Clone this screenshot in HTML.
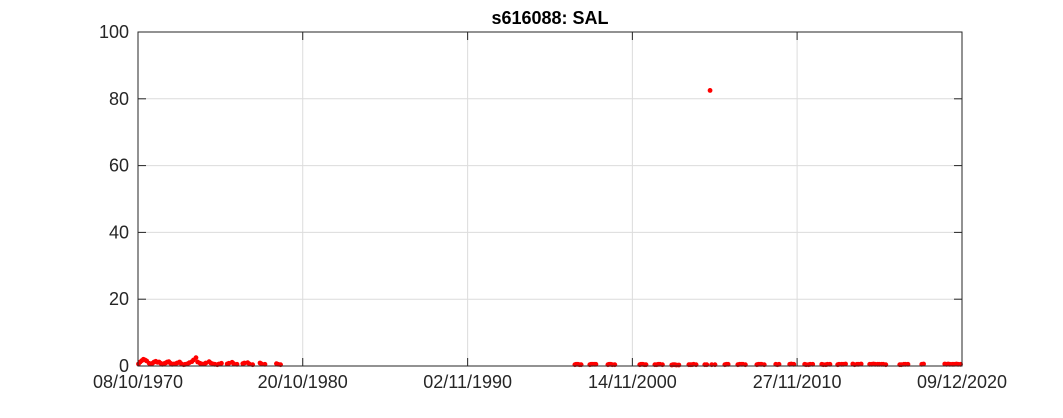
<!DOCTYPE html>
<html><head><meta charset="utf-8"><style>
body{margin:0;background:#fff;font-family:"Liberation Sans",sans-serif}
svg text{font-family:"Liberation Sans",sans-serif}
</style></head><body>
<svg id="chart" width="1063" height="413" xmlns="http://www.w3.org/2000/svg">
<rect x="0" y="0" width="1063" height="413" fill="#fff"/>
<g id="grid"></g>
<g id="marks"></g>
<rect x="138" y="32" width="824" height="334" fill="none" stroke="#262626" stroke-width="1"/>
<g id="axes"></g>
<text x="550" y="24" text-anchor="middle" font-size="18" font-weight="bold" fill="#000">s616088: SAL</text>
</svg>
<script>
const xTickYears=[1970.77,1980.80,1990.84,2000.87,2010.90,2020.94];
const xTickLabels=["08/10/1970","20/10/1980","02/11/1990","14/11/2000","27/11/2010","09/12/2020"];
const yTicks=[0,20,40,60,80,100];
const dates=[1970.80,1970.90,1971.00,1971.10,1971.20,1971.30,1971.45,1971.55,1971.65,1971.75,1971.85,1971.95,1972.05,1972.15,1972.25,1972.35,1972.45,1972.55,1972.65,1972.75,1972.85,1972.95,1973.05,1973.15,1973.30,1973.40,1973.55,1973.65,1973.80,1973.90,1974.05,1974.15,1974.30,1974.40,1974.55,1974.65,1974.80,1974.90,1975.10,1975.20,1975.35,1975.45,1975.60,1975.70,1975.85,1976.20,1976.30,1976.50,1976.60,1976.80,1977.15,1977.25,1977.45,1977.55,1977.75,1978.20,1978.30,1978.50,1979.20,1979.30,1979.45,
1997.37,1997.45,1997.55,1997.65,1997.75,1998.28,1998.36,1998.45,1998.55,1998.65,1999.38,1999.46,1999.55,1999.65,1999.80,2001.32,2001.40,2001.50,2001.60,2001.70,2002.24,2002.35,2002.45,2002.55,2002.70,2003.27,2003.35,2003.45,2003.55,2003.70,2004.31,2004.40,2004.50,2004.60,2004.75,2005.28,2005.40,2005.60,2005.70,2005.90,2006.50,2006.60,2006.70,2007.29,2007.40,2007.50,2007.60,2007.75,2008.45,2008.55,2008.65,2008.75,2008.90,2009.60,2009.70,2009.80,2010.45,2010.55,2010.70,2011.36,2011.45,2011.60,2011.70,2011.85,2012.40,2012.50,2012.65,2012.75,2012.90,2013.37,2013.45,2013.60,2013.70,2013.85,2014.29,2014.40,2014.55,2014.65,2014.80,2015.32,2015.45,2015.55,2015.65,2015.80,2015.90,2016.05,2016.15,2016.30,2017.15,2017.25,2017.40,2017.50,2017.65,2018.49,2018.60,2019.89,2020.00,2020.10,2020.20,2020.35,2020.45,2020.60,2020.70,2020.85];
const values=[0.6,1.2,1.6,2.0,1.8,1.5,0.8,0.6,0.8,1.2,1.4,1.1,1.2,0.8,0.5,0.7,0.9,1.2,1.3,0.8,0.5,0.6,0.6,0.9,1.2,0.7,0.4,0.5,0.7,1.0,1.3,1.8,2.5,1.2,0.8,0.6,0.6,0.9,1.3,0.9,0.6,0.5,0.4,0.6,0.8,0.6,0.8,1.1,0.7,0.5,0.7,0.9,1.0,0.6,0.4,0.9,0.6,0.5,0.7,0.5,0.4,
0.4,0.5,0.5,0.4,0.4,0.4,0.5,0.5,0.5,0.5,0.4,0.5,0.5,0.4,0.4,0.4,0.5,0.5,0.4,0.4,0.4,0.4,0.5,0.5,0.4,0.3,0.4,0.4,0.3,0.3,0.4,0.4,0.4,0.5,0.4,0.4,0.4,82.5,0.4,0.4,0.4,0.5,0.5,0.4,0.5,0.5,0.5,0.4,0.4,0.5,0.5,0.5,0.4,0.5,0.4,0.5,0.5,0.6,0.5,0.5,0.4,0.4,0.5,0.5,0.5,0.4,0.4,0.5,0.5,0.4,0.5,0.5,0.5,0.6,0.6,0.4,0.5,0.5,0.6,0.5,0.5,0.6,0.5,0.5,0.5,0.5,0.5,0.4,0.4,0.4,0.5,0.5,0.5,0.5,0.6,0.6,0.5,0.6,0.5,0.5,0.5,0.6,0.5,0.5];
const X0=138,X1=962,Y0=366,Y1=32;
const xs=y=>X0+(y-xTickYears[0])/(xTickYears[5]-xTickYears[0])*(X1-X0);
const ys=v=>Y0-v/100*(Y0-Y1);
const NS="http://www.w3.org/2000/svg";
const grid=document.getElementById('grid'),axes=document.getElementById('axes'),marks=document.getElementById('marks');
function mk(tag,attrs,parent){const e=document.createElementNS(NS,tag);for(const k in attrs)e.setAttribute(k,attrs[k]);parent.appendChild(e);return e;}
xTickYears.forEach((t,i)=>{const x=xs(t);
 const g=mk('line',{x1:x,x2:x,y1:Y1,y2:Y0,stroke:'#dcdcdc','stroke-width':1},grid);
 
 
 mk('line',{x1:x,x2:x,y1:Y0,y2:Y0-8,stroke:'#262626'},axes);
 mk('line',{x1:x,x2:x,y1:Y1,y2:Y1+8,stroke:'#262626'},axes);
 const tx=mk('text',{x:x,y:Y0+22,'text-anchor':'middle','font-size':18,fill:'#262626'},axes);
 tx.textContent=xTickLabels[i];
 
 
});
yTicks.forEach(v=>{const y=ys(v);
 const g=mk('line',{x1:X0,x2:X1,y1:y,y2:y,stroke:'#dcdcdc','stroke-width':1},grid);
 
 
 mk('line',{x1:X0,x2:X0+8,y1:y,y2:y,stroke:'#262626'},axes);
 mk('line',{x1:X1,x2:X1-8,y1:y,y2:y,stroke:'#262626'},axes);
 const tx=mk('text',{x:X0-9,y:y+6,'text-anchor':'end','font-size':18,fill:'#262626'},axes);
 tx.textContent=v;
 
 
});
const n=Math.min(dates.length,values.length);
for(let i=0;i<n;i++){
 const c=mk('circle',{cx:xs(dates[i]),cy:ys(values[i]),r:2.4,fill:'#ff0000'},marks);
 
 
}
</script>
</body></html>
